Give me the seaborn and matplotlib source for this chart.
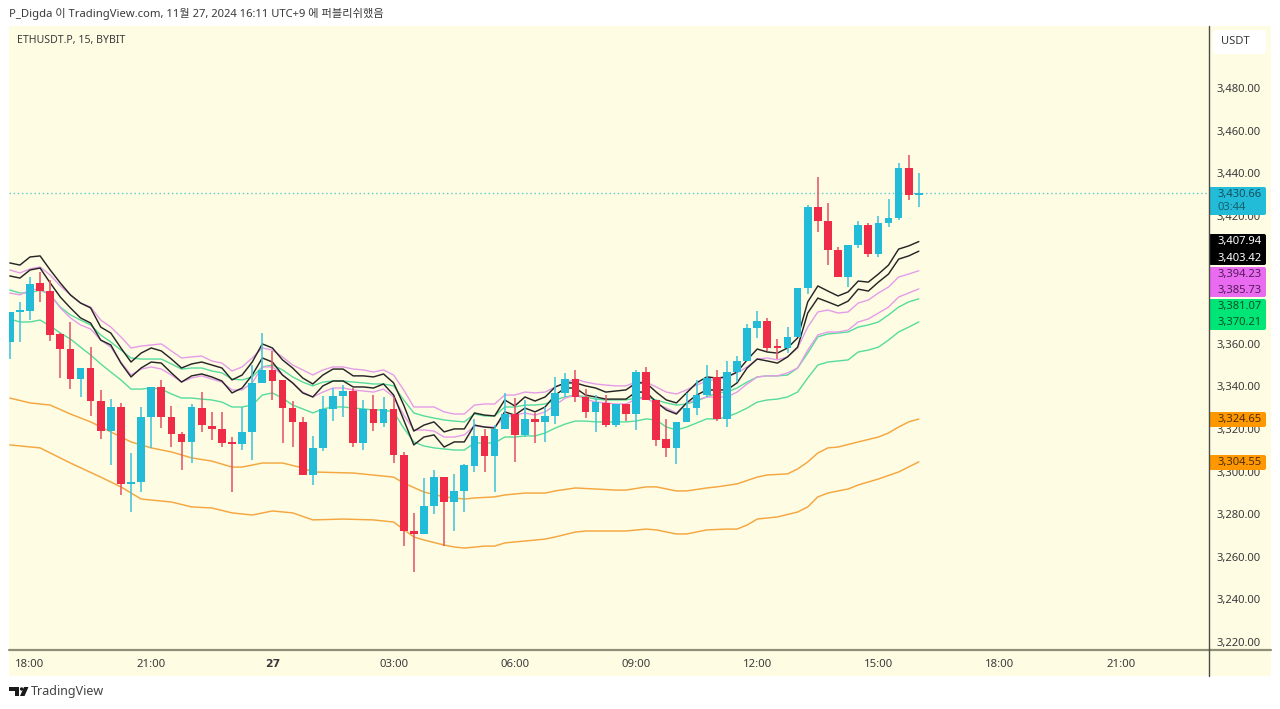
import numpy as np
import pandas as pd
import matplotlib
matplotlib.use("Agg")
import matplotlib.pyplot as plt
from matplotlib.patches import Rectangle, FancyBboxPatch, Polygon, Circle
from matplotlib.transforms import Affine2D
import seaborn as sns

bars = list(range(-2, 89))
opens = [3360.8,3374.9,3375.3,3388.5,3384.7,3364.6,3357.5,3343.4,3348.6,3333.1,3319.0,3330.3,3294.2,3295.1,3325.6,3339.7,3325.6,3317.6,3313.9,3329.8,3321.4,3320.0,3313.4,3312.9,3318.6,3341.6,3347.7,3343.0,3329.8,3323.3,3298.4,3311.1,3329.4,3335.5,3337.8,3313.4,3329.4,3322.8,3329.4,3307.8,3272.1,3270.7,3283.8,3297.4,3285.7,3290.9,3302.6,3316.7,3307.3,3320.0,3327.0,3317.2,3324.7,3323.3,3326.1,3336.9,3343.4,3335.0,3328.0,3332.2,3321.8,3331.7,3327.0,3346.7,3333.6,3315.3,3311.1,3323.3,3329.8,3335.9,3344.4,3324.7,3346.7,3351.9,3367.4,3370.6,3358.4,3358.0,3363.2,3386.1,3424.2,3417.6,3404.0,3391.3,3406.3,3415.7,3402.1,3416.6,3419.0,3442.5,3429.8]
closes = [3374.9,3375.3,3388.0,3384.7,3364.1,3357.5,3343.4,3348.6,3333.1,3319.0,3330.3,3294.2,3295.1,3325.6,3339.7,3325.6,3317.6,3313.9,3330.3,3321.8,3320.0,3313.4,3312.9,3318.6,3341.6,3347.7,3342.5,3329.8,3323.3,3298.4,3311.1,3329.4,3335.5,3337.8,3313.4,3329.4,3322.8,3329.4,3307.8,3272.1,3270.7,3283.8,3297.4,3285.7,3290.9,3303.1,3316.7,3307.3,3320.0,3327.0,3317.2,3324.7,3323.3,3326.1,3336.9,3343.4,3335.0,3328.0,3332.6,3321.8,3331.7,3327.0,3346.7,3333.6,3314.8,3311.1,3323.3,3329.8,3335.9,3343.9,3324.7,3346.7,3351.9,3367.4,3370.6,3358.0,3358.0,3363.2,3386.1,3424.2,3417.6,3404.0,3391.3,3406.3,3415.7,3402.1,3416.6,3419.0,3442.5,3429.8,3430.66]
highs = [3374.9,3379.6,3391.3,3393.6,3389.9,3365.0,3370.2,3348.6,3358.4,3338.3,3334.0,3332.2,3308.7,3330.3,3339.7,3343.0,3330.8,3318.6,3331.7,3337.3,3328.0,3328.0,3316.2,3330.3,3350.0,3365.0,3356.6,3343.0,3333.1,3325.6,3316.7,3335.5,3339.2,3340.6,3339.2,3333.6,3335.9,3335.0,3335.0,3309.2,3280.6,3297.0,3300.7,3297.4,3298.8,3303.5,3324.7,3320.0,3321.8,3336.9,3334.5,3333.6,3327.5,3330.3,3344.4,3346.3,3347.7,3338.7,3335.9,3335.9,3331.7,3331.7,3347.7,3349.1,3333.6,3324.7,3323.3,3336.9,3343.0,3350.0,3347.7,3351.9,3354.2,3369.2,3375.3,3372.1,3362.2,3367.8,3386.1,3425.1,3438.2,3426.0,3405.4,3406.3,3417.6,3416.6,3419.9,3427.9,3444.8,3448.6,3440.1]
lows = [3352.8,3360.8,3371.1,3379.6,3361.3,3343.9,3338.7,3335.0,3326.1,3315.3,3303.1,3289.0,3281.0,3290.4,3311.1,3320.4,3311.5,3300.7,3304.0,3318.6,3314.8,3311.5,3290.4,3310.1,3305.4,3341.6,3333.6,3313.4,3311.5,3298.4,3293.7,3309.6,3323.7,3325.6,3311.5,3310.1,3319.0,3320.9,3304.0,3265.0,3252.9,3270.7,3280.1,3265.0,3272.1,3281.0,3299.8,3299.8,3290.4,3320.0,3304.5,3316.2,3313.4,3313.9,3322.3,3335.0,3332.6,3325.1,3318.6,3320.9,3320.9,3323.7,3319.5,3333.6,3312.0,3306.8,3303.5,3323.3,3326.5,3335.0,3323.7,3320.9,3342.0,3351.9,3362.7,3356.6,3352.8,3355.6,3363.2,3383.3,3412.4,3396.9,3391.3,3386.6,3404.9,3400.7,3400.7,3414.8,3418.1,3427.4,3424.2]

black_upper = [3397.9,3396.9,3400.7,3401.2,3394.6,3388.5,3382.9,3379.1,3376.8,3367.8,3365.0,3358.0,3351.4,3355.6,3358.0,3356.6,3352.8,3348.6,3350.5,3351.4,3350.0,3348.6,3343.0,3345.3,3351.4,3359.9,3358.0,3352.4,3348.6,3343.9,3341.1,3345.3,3348.1,3348.1,3344.9,3344.9,3344.4,3345.8,3341.6,3331.2,3319.0,3321.8,3323.3,3318.6,3320.0,3320.0,3327.5,3326.5,3326.1,3333.6,3330.8,3335.0,3333.1,3335.0,3339.7,3341.6,3341.6,3340.2,3339.2,3337.3,3337.8,3338.3,3341.6,3341.6,3337.3,3333.6,3332.2,3336.9,3341.6,3344.4,3343.9,3344.4,3346.7,3352.4,3357.5,3356.1,3355.6,3358.0,3362.7,3379.6,3387.1,3384.7,3382.4,3384.3,3389.4,3388.9,3392.7,3396.9,3404.4,3405.9,3407.94]
black_lower = [3391.8,3390.8,3394.6,3395.5,3388.5,3381.9,3376.8,3372.1,3369.7,3361.7,3359.4,3350.9,3344.4,3348.6,3351.4,3350.9,3346.3,3342.0,3344.9,3345.8,3344.4,3342.5,3336.9,3339.2,3345.3,3353.3,3351.4,3345.3,3341.6,3336.9,3335.0,3340.2,3342.5,3342.5,3339.7,3339.7,3339.2,3341.1,3335.9,3324.2,3312.5,3316.2,3317.2,3311.5,3313.9,3313.9,3321.8,3320.9,3320.4,3328.0,3326.5,3329.8,3328.0,3330.3,3335.9,3339.2,3339.2,3335.9,3335.0,3334.0,3334.0,3334.0,3337.3,3337.3,3332.6,3328.9,3327.0,3332.2,3335.9,3338.3,3338.3,3338.3,3341.6,3348.6,3352.8,3351.9,3350.9,3353.8,3358.4,3374.4,3381.4,3379.6,3377.7,3380.0,3385.6,3384.7,3388.9,3392.7,3399.7,3401.2,3403.42]
violet_upper = [3394.6,3393.2,3395.1,3396.0,3392.2,3387.1,3382.9,3379.1,3377.2,3371.1,3367.8,3363.2,3358.0,3358.9,3359.4,3359.9,3356.6,3353.3,3353.8,3354.2,3351.9,3350.9,3347.2,3349.1,3353.3,3358.0,3357.0,3353.8,3350.0,3347.7,3345.3,3347.7,3349.1,3349.1,3348.1,3347.7,3346.7,3347.7,3345.3,3338.3,3330.3,3330.3,3330.3,3328.0,3327.0,3327.0,3331.2,3331.7,3331.7,3335.9,3335.9,3337.3,3336.9,3337.3,3339.7,3341.6,3343.4,3342.0,3341.1,3340.6,3340.2,3340.2,3342.0,3342.0,3339.7,3337.3,3336.4,3338.3,3340.6,3342.5,3343.4,3344.4,3346.3,3349.1,3352.8,3353.3,3352.4,3353.8,3358.0,3367.8,3374.9,3375.8,3374.4,3374.9,3379.1,3380.5,3383.8,3386.6,3391.3,3392.7,3394.23]
violet_lower = [3383.8,3382.9,3385.2,3385.7,3382.9,3376.8,3372.1,3368.8,3366.9,3361.7,3358.4,3351.4,3345.3,3348.1,3349.1,3348.1,3345.3,3342.0,3343.9,3344.9,3343.4,3342.0,3338.3,3338.3,3341.6,3349.1,3349.1,3345.3,3341.6,3337.3,3335.0,3337.3,3339.2,3339.2,3338.3,3337.8,3337.3,3338.7,3335.0,3326.5,3319.5,3319.5,3319.0,3316.2,3316.2,3317.2,3321.4,3320.9,3320.9,3325.6,3326.5,3327.5,3326.5,3328.0,3331.2,3334.5,3335.9,3334.0,3332.6,3332.2,3331.7,3331.7,3334.0,3334.5,3331.7,3329.8,3327.5,3332.2,3333.6,3335.0,3335.0,3335.0,3337.3,3341.1,3344.4,3344.9,3344.9,3346.3,3348.6,3357.0,3364.1,3365.5,3365.5,3366.4,3370.2,3371.6,3374.4,3377.2,3381.9,3383.8,3385.73]
green_upper = [3385.2,3383.8,3383.8,3385.2,3382.9,3377.2,3373.5,3371.1,3368.8,3364.1,3360.8,3357.0,3353.3,3352.8,3352.8,3352.8,3350.5,3348.1,3348.6,3348.6,3347.2,3346.3,3343.4,3343.0,3344.4,3349.1,3350.0,3347.7,3344.4,3342.0,3340.2,3342.0,3342.5,3342.5,3342.0,3341.6,3341.1,3341.1,3340.2,3333.6,3327.5,3326.1,3325.1,3324.2,3323.7,3323.3,3327.0,3326.1,3326.1,3330.3,3330.3,3331.2,3331.2,3331.7,3333.6,3335.0,3335.9,3335.0,3334.0,3333.6,3333.6,3333.6,3334.5,3335.0,3333.6,3332.2,3331.2,3331.7,3333.1,3335.0,3336.9,3337.3,3339.2,3342.0,3344.4,3344.9,3344.9,3345.3,3348.6,3355.6,3363.2,3364.6,3365.0,3365.5,3367.8,3368.8,3370.2,3373.5,3377.2,3379.6,3381.07]
green_lower = [3371.6,3370.2,3370.2,3371.1,3368.3,3365.0,3362.2,3358.4,3354.7,3350.5,3346.7,3343.0,3338.7,3338.7,3339.2,3338.7,3336.4,3334.5,3334.5,3334.0,3333.6,3332.6,3330.3,3330.3,3331.2,3335.9,3336.9,3334.5,3331.2,3329.4,3327.5,3329.4,3330.3,3330.3,3329.8,3329.4,3328.9,3328.9,3328.0,3320.4,3313.9,3312.0,3311.1,3310.6,3310.1,3310.1,3313.4,3313.4,3313.4,3316.2,3316.2,3316.7,3316.7,3318.1,3320.4,3322.3,3323.7,3323.7,3323.3,3323.3,3323.3,3323.3,3323.7,3324.7,3324.2,3320.9,3319.5,3320.9,3322.8,3324.7,3324.7,3325.6,3327.5,3329.8,3332.6,3333.6,3334.0,3335.0,3337.3,3343.9,3350.0,3351.4,3351.9,3352.4,3356.1,3357.0,3358.4,3361.7,3365.5,3367.8,3370.21]
orange_upper_bars = [-2,0,2,4,6,8,10,12,14,16,18,20,21,23,25,27,28,32,36,37,39,41,43,44,46,47,49,51,52,54,56,58,59,61,62,64,65,67,68,70,72,73,75,76,77,78,79,80,82,84,85,86,87,88]
orange_upper = [3334.5,3332.2,3331.2,3327.0,3323.3,3318.6,3313.9,3311.1,3309.2,3306.4,3304.9,3302.1,3302.1,3304.0,3304.0,3301.7,3299.8,3299.3,3297.4,3294.6,3290.4,3288.1,3287.1,3287.6,3288.1,3289.0,3289.9,3289.9,3290.9,3292.3,3291.8,3291.3,3291.3,3292.8,3292.8,3290.9,3290.9,3292.3,3292.8,3294.2,3297.4,3298.4,3298.9,3301.2,3304.5,3308.7,3311.1,3311.5,3313.9,3316.2,3318.1,3320.9,3323.3,3324.65]
orange_lower_bars = [-2,1,4,7,9,11,14,16,18,20,21,22,24,26,28,31,34,36,38,39,41,42,43,45,46,47,49,51,52,54,55,59,61,62,64,65,67,69,70,71,72,74,76,77,78,79,80,81,82,84,86,88]
orange_lower = [3312.5,3311.1,3304.0,3297.4,3292.8,3287.1,3285.7,3283.4,3282.9,3280.6,3280.1,3279.6,3281.5,3280.6,3277.3,3277.7,3277.3,3276.3,3269.3,3267.9,3265.5,3264.6,3264.1,3265.0,3265.0,3266.5,3267.4,3268.3,3269.3,3271.6,3272.1,3272.1,3273.0,3272.6,3270.7,3270.7,3272.6,3273.0,3273.0,3274.9,3277.7,3278.7,3281.0,3283.4,3288.1,3289.9,3290.9,3291.8,3293.7,3296.5,3299.8,3304.55]
last_price = 3430.66
price_ticks = [3220,3240,3260,3280,3300,3320,3340,3360,3420,3440,3460,3480]
time_ticks = [0,12,24,36,48,60,72,84,96,108]
time_labels = ["18:00","21:00","27","03:00","06:00","09:00","12:00","15:00","18:00","21:00"]

UP, DOWN = "#22bcd9", "#ee2c47"
UP_W, DOWN_W = "#42c6dc", "#e4566a"
BG = "#FFFCE4"
TXT = "#3a3a3a"
TV = "Noto Sans"
W, H = 1280, 709

sns.set_theme(style="white")
plt.rcParams["font.family"] = [TV, "Noto Sans CJK KR", "DejaVu Sans"]
fig = plt.figure(figsize=(W/100, H/100), dpi=100, facecolor="white")
fx = lambda x: x / W
fy = lambda y: 1 - y / H
px = Affine2D().scale(1 / W, -1 / H).translate(0, 1) + fig.transFigure

panel = Rectangle((fx(9), fy(676)), (1271-9)/W, (676-26)/H, transform=fig.transFigure, fc=BG, ec="none", zorder=-2)
fig.add_artist(panel)
ax = fig.add_axes([fx(9), fy(650), (1208-9)/W, (650-26)/H], facecolor=BG, zorder=0)

line_specs = [
    (bars, green_lower, "#55dc9c", 1.0),
    (bars, green_upper, "#55dc9c", 1.0),
    (bars, violet_lower, "#e59ce8", 1.0),
    (bars, violet_upper, "#e59ce8", 1.0),
    (bars, black_lower, "#262626", 1.05),
    (bars, black_upper, "#262626", 1.05),
    (orange_upper_bars, orange_upper, "#f4a63f", 1.05),
    (orange_lower_bars, orange_lower, "#f4a63f", 1.05),
]
for xs, ys, col, lw in line_specs:
    df = pd.DataFrame({"bar": xs, "price": ys})
    sns.lineplot(data=df, x="bar", y="price", color=col, linewidth=lw, ax=ax,
                 estimator=None, errorbar=None, legend=False, zorder=2)

candles = pd.DataFrame({"bar": bars, "o": opens, "h": highs, "l": lows, "c": closes})
rising = candles.c >= candles.o
ax.vlines(candles.bar, candles.l, candles.h, colors=np.where(rising, UP_W, DOWN_W), linewidth=1.15, zorder=3)
ax.bar(candles.bar, (candles.c - candles.o).abs().clip(lower=0.9), bottom=candles[["o", "c"]].min(axis=1),
       width=0.76, color=np.where(rising, UP, DOWN), linewidth=0, zorder=4)
ax.axhline(last_price, color="#5cc9c9", lw=1.0, ls=(0, (1, 2)), zorder=1)

ax.set_xlim(-2.08, 116.63)
ax.set_ylim(3216.25, 3509.1)
ax.set_xlabel(""); ax.set_ylabel("")
ax.yaxis.tick_right()
ax.set_yticks(price_ticks)
ax.set_yticklabels([f"{v:,.2f}" for v in price_ticks], fontsize=8.1, color=TXT, family=TV)
ax.set_xticks(time_ticks)
xlabs = ax.set_xticklabels(time_labels, fontsize=8.2, color=TXT, family=TV)
xlabs[2].set_fontfamily("DejaVu Sans")
xlabs[2].set_fontweight("bold")
xlabs[2].set_fontsize(7.8)
ax.tick_params(axis="y", length=0, pad=6.3)
ax.tick_params(axis="x", length=0, pad=6.5)
for s in ax.spines.values():
    s.set_visible(False)

fig.add_artist(plt.Line2D([fx(9), fx(1271)], [fy(650), fy(650)], color="#8f8f78", lw=1.6))
fig.add_artist(plt.Line2D([fx(1208.5), fx(1208.5)], [fy(26), fy(676)], color="#4c4c48", lw=1.0))


def tag(y0, y1, color, zorder=6):
    p = FancyBboxPatch((1209, y0 + 1), 57, y1 - y0 - 2, boxstyle="round,pad=0,rounding_size=2",
                       transform=px, fc=color, ec="none", clip_on=False, zorder=zorder)
    ax.add_patch(p)


tag(186, 216, "#22bcd9")
tag(233, 250, "#000000"); tag(250, 266, "#000000")
ax.add_patch(Rectangle((1209, 240), 57, 20, transform=px, fc="#000000", ec="none", clip_on=False, zorder=6))
tag(266, 282, "#e96cf0"); tag(282, 298, "#e96cf0")
ax.add_patch(Rectangle((1209, 272), 57, 20, transform=px, fc="#e96cf0", ec="none", clip_on=False, zorder=6))
tag(298, 314, "#00e676"); tag(314, 331, "#00e676")
ax.add_patch(Rectangle((1209, 304), 57, 20, transform=px, fc="#00e676", ec="none", clip_on=False, zorder=6))
tag(411, 428, "#ff9800"); tag(454, 471, "#ff9800")
ax.add_patch(FancyBboxPatch((1213, 30), 53, 24, boxstyle="round,pad=0,rounding_size=3", transform=px,
                            fc="white", ec="none", clip_on=False, zorder=6))

tag_texts = [
    (194, f"{last_price:,.2f}", "#17505f"), (207, "03:44", "#17606f"),
    (241.5, f"{black_upper[-1]:,.2f}", "white"), (258, f"{black_lower[-1]:,.2f}", "white"),
    (274, f"{violet_upper[-1]:,.2f}", "#571a5c"), (290, f"{violet_lower[-1]:,.2f}", "#571a5c"),
    (306, f"{green_upper[-1]:,.2f}", "#07502a"), (322, f"{green_lower[-1]:,.2f}", "#07502a"),
    (419.5, f"{orange_upper[-1]:,.2f}", "#4f2f05"), (462.5, f"{orange_lower[-1]:,.2f}", "#4f2f05"),
]
for y, s, c in tag_texts:
    ax.text(1217, y, s, transform=px, fontsize=8.1, color=c, va="center", ha="left", zorder=7, clip_on=False, family=TV)
ax.text(1221, 41.5, "USDT", transform=px, fontsize=8.0, color=TXT, va="center", ha="left", zorder=7, clip_on=False, family=TV)

fig.text(fx(9), fy(14), "P_Digda 이 TradingView.com, 11월 27, 2024 16:11 UTC+9 에 퍼블리쉬했음",
         fontsize=8.1, color=TXT, va="center", ha="left", family=[TV, "Noto Sans CJK KR"])
fig.text(fx(17), fy(40), "ETHUSDT.P, 15, BYBIT", fontsize=7.6, color=TXT, va="center", ha="left", family=TV)
fig.text(fx(31), fy(692), "TradingView", fontsize=9.0, color="#444444", va="center", ha="left", family=TV)

logo = [
    Polygon([(9.3, 687), (19, 687), (19, 696), (15, 696), (15, 691), (9.3, 691)]),
    Circle((21.6, 689), 1.7),
    Polygon([(24, 687), (28.5, 687), (24.5, 696), (20, 696)]),
]
for p in logo:
    p.set_transform(px); p.set_facecolor("#1a1a1a"); p.set_edgecolor("none")
    fig.add_artist(p)

fig.savefig("out.png", dpi=100, facecolor="white")
